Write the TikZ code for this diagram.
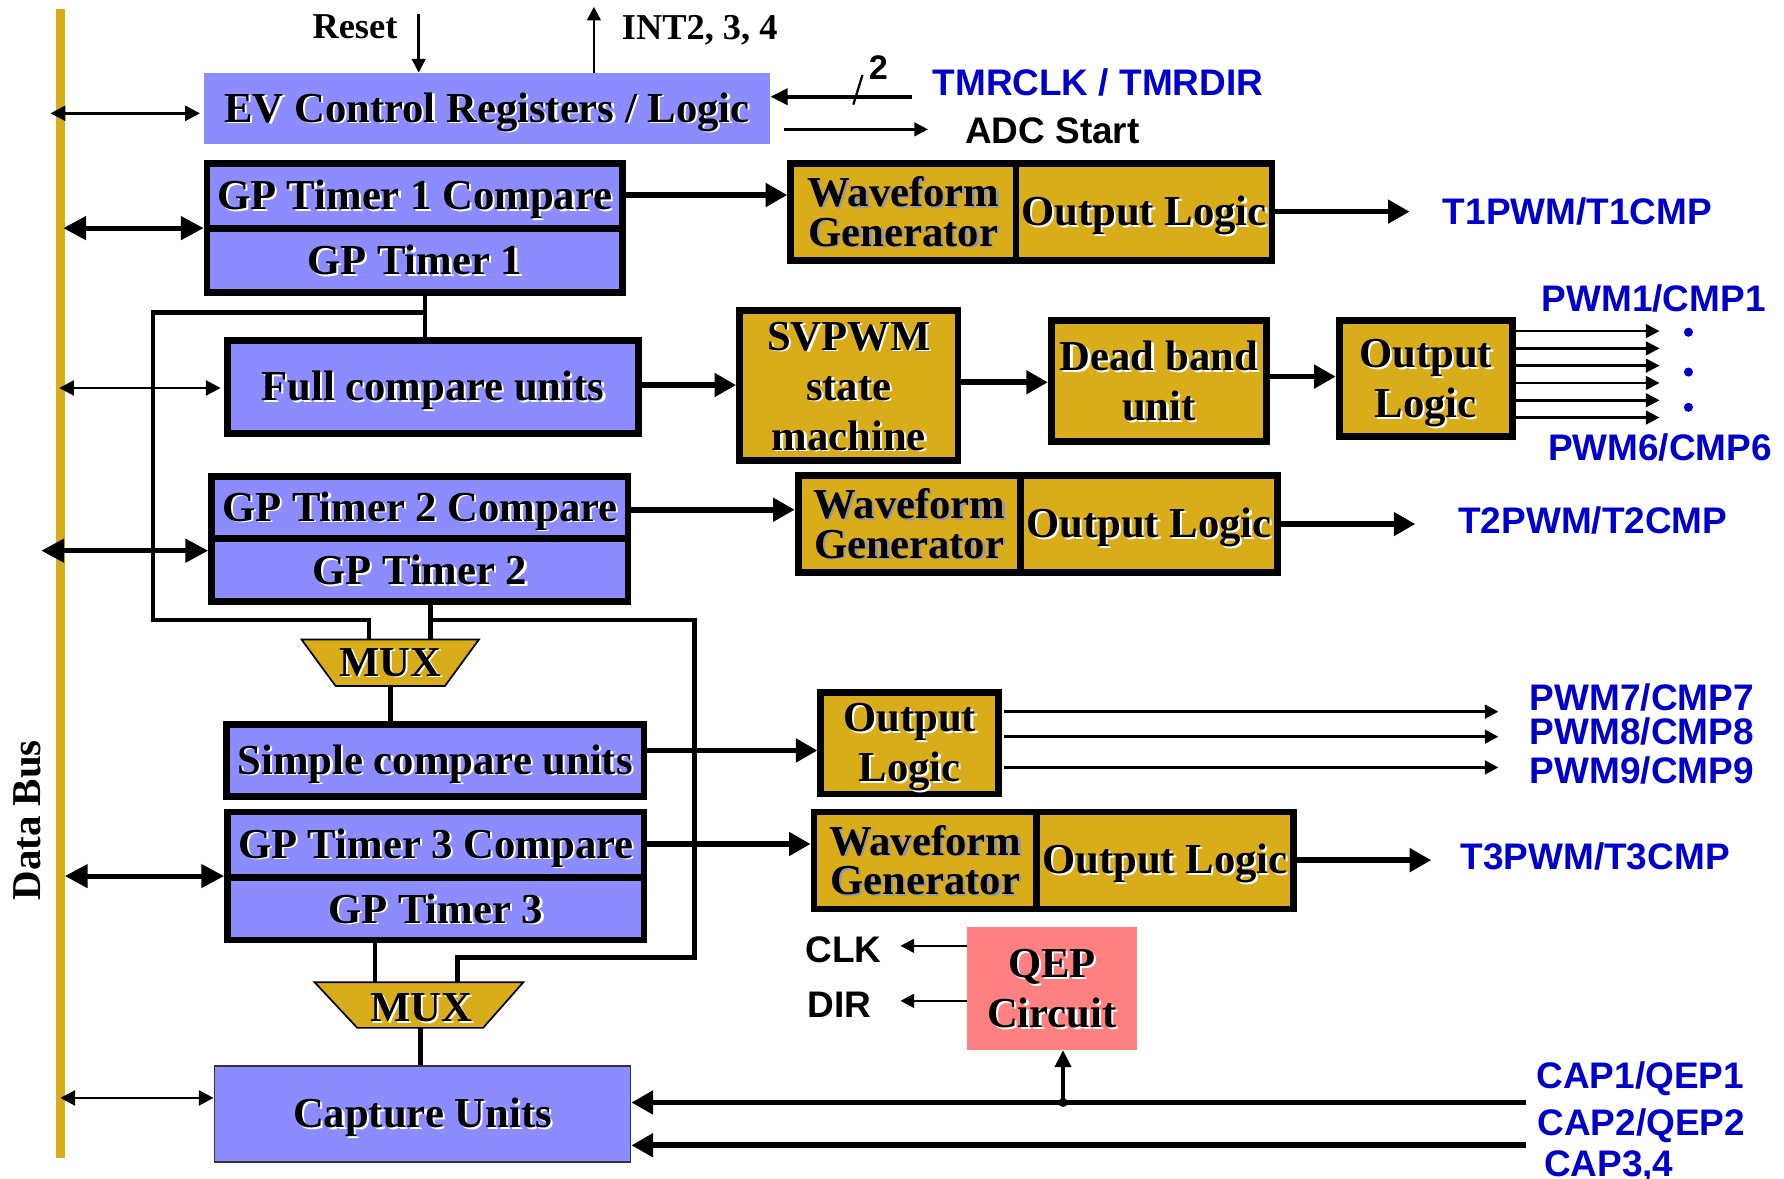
\documentclass[tikz,border=0pt]{standalone}
\usepackage{fontspec}
\setmainfont{Liberation Serif}
\newfontfamily\sansf{Liberation Sans}
\usetikzlibrary{arrows.meta,calc}
\definecolor{evblue}{RGB}{140,140,255}
\definecolor{evyel}{RGB}{217,172,26}
\definecolor{qepcol}{RGB}{255,128,128}
\definecolor{lblue}{RGB}{0,0,204}
\newcommand{\sh}[1]{\leavevmode\rlap{\kern2pt\raisebox{-1.5pt}{\textcolor{white}{#1}}}#1}
\newcommand{\shg}[1]{\leavevmode\rlap{\kern2pt\raisebox{-1.5pt}{\textcolor{black!40}{#1}}}#1}
\newcommand{\tst}{\rule{0pt}{0.891em}}
\newcommand{\bst}{\rule[-0.216em]{0pt}{0.216em}}
\newcommand{\fbig}{\fontsize{37.5}{44}\selectfont\bfseries}
\newcommand{\fwg}{\fontsize{37.5}{35}\selectfont\bfseries}
\newcommand{\flab}{\sansf\fontsize{32.5}{36}\selectfont\bfseries}
\newcommand{\ftop}{\fontsize{32}{36}\selectfont\bfseries}
\begin{document}
\begin{tikzpicture}[x=1pt,y=-1pt,
  box/.style={draw, line width=6pt, inner sep=0pt, align=center, font=\fbig},
  bl/.style={box, fill=evblue},
  yl/.style={box, fill=evyel},
  thk/.style={line width=5pt, -{Triangle[length=19pt,width=20pt]}},
  dthk/.style={line width=4.5pt, {Triangle[length=20pt,width=20pt]}-{Triangle[length=20pt,width=20pt]}},
  thn/.style={line width=2.2pt, -{Triangle[length=12pt,width=12pt]}},
  dthn/.style={line width=2.5pt, {Triangle[length=13pt,width=13pt]}-{Triangle[length=13pt,width=13pt]}},
  med/.style={line width=3.5pt, -{Triangle[length=15pt,width=14pt]}},
  conn/.style={line width=4pt},
  lab/.style={font=\flab, text=lblue, anchor=base, inner sep=0pt},
  blab/.style={font=\flab, text=black, anchor=base, inner sep=0pt},
  tlab/.style={font=\ftop, anchor=base, inner sep=0pt},
  muxs/.style={fill=evyel, draw=black, line width=1.5pt}
]
\useasboundingbox (0,0) rectangle (1568,1036);
\fill[white] (0,0) rectangle (1568,1036);

% data bus
\node[fill=evyel, minimum width=8pt, minimum height=1009.6pt, inner sep=0pt] (bus) at (53.5,512.8) {};
\node[font=\fontsize{36}{40}\selectfont\bfseries, rotate=90] (dbus) at (24,721) {Data Bus};

% EV control
\node[fill=evblue, minimum width=498pt, minimum height=63pt, inner sep=0pt, font=\fbig] (ev) at (428,95.5) {\tst\sh{EV Control Registers / Logic}\bst};

% GP timer 1
\node[bl, minimum width=365pt, minimum height=56.5pt] (gp1c) at (364.5,172.25) {\tst\sh{GP Timer 1 Compare}\bst};
\node[bl, minimum width=365pt, minimum height=56.5pt] (gp1t) at (364.5,228.75) {\tst\sh{GP Timer 1}\bst};
\node[yl, font=\fwg, minimum width=198pt, minimum height=85.4pt] (wg1) at (794,186.3) {\tst\shg{Waveform}\\\shg{Generator}\bst};
\node[yl, minimum width=225pt, minimum height=85.4pt] (ol1) at (1005.5,186.3) {\tst\sh{Output Logic}\bst};

% full compare
\node[bl, minimum width=361pt, minimum height=82pt] (fc) at (380.5,340) {\tst\sh{Full compare units}\bst};
\node[yl, minimum width=192pt, minimum height=132pt] (sv) at (746,339) {\tst\sh{SVPWM}\\\sh{state}\\\sh{machine}\bst};
\node[yl, minimum width=189pt, minimum height=106pt] (db) at (1018.5,335) {\tst\sh{Dead band}\\\sh{unit}\bst};
\node[yl, minimum width=152pt, minimum height=102pt] (ol) at (1253,333) {\tst\sh{Output}\\\sh{Logic}\bst};

% GP timer 2
\node[bl, minimum width=366pt, minimum height=55pt] (gp2c) at (369,446) {\tst\sh{GP Timer 2 Compare}\bst};
\node[bl, minimum width=366pt, minimum height=55pt] (gp2t) at (369,501) {\tst\sh{GP Timer 2}\bst};
\node[yl, font=\fwg, minimum width=195.5pt, minimum height=85pt] (wg2) at (799.25,460.5) {\tst\shg{Waveform}\\\shg{Generator}\bst};
\node[yl, minimum width=225.6pt, minimum height=85pt] (ol2) at (1009.8,460.5) {\tst\sh{Output Logic}\bst};

% MUX 1
\coordinate (m1a) at (265,562);
\coordinate (m1b) at (421,562);
\coordinate (m1c) at (391,603);
\coordinate (m1d) at (295,603);
\coordinate (m1mid) at (343,603);
\draw[muxs] (m1a) -- (m1b) -- (m1c) -- (m1d) -- cycle;
\node[font=\fbig, inner sep=0pt] (mux1) at (343,583) {\sh{MUX}};

% simple compare
\node[bl, minimum width=367pt, minimum height=63.6pt] (sc) at (382.5,668.4) {\tst\sh{Simple compare units}\bst};
\node[yl, minimum width=156pt, minimum height=89.4pt] (olb) at (799.5,653.1) {\tst\sh{Output}\\\sh{Logic}\bst};

% GP timer 3
\node[bl, minimum width=366pt, minimum height=57.3pt] (gp3c) at (383,742.35) {\tst\sh{GP Timer 3 Compare}\bst};
\node[bl, minimum width=366pt, minimum height=55.2pt] (gp3t) at (383,798.6) {\tst\sh{GP Timer 3}\bst};
\node[yl, font=\fwg, minimum width=195.5pt, minimum height=85.3pt] (wg3) at (813.25,756.35) {\tst\shg{Waveform}\\\shg{Generator}\bst};
\node[yl, minimum width=225.6pt, minimum height=85.3pt] (ol3) at (1023.8,756.35) {\tst\sh{Output Logic}\bst};

% MUX 2
\coordinate (m2a) at (276.5,863.3);
\coordinate (m2b) at (460,863.3);
\coordinate (m2c) at (424.6,903.4);
\coordinate (m2d) at (314,903.4);
\coordinate (m2mid) at (369.8,903.4);
\draw[muxs] (m2a) -- (m2b) -- (m2c) -- (m2d) -- cycle;
\node[font=\fbig, inner sep=0pt] (mux2) at (370,886.6) {\sh{MUX}};

% capture
\node[draw=black!80, line width=1.5pt, fill=evblue, minimum width=365.7pt, minimum height=84.5pt, inner sep=0pt, font=\fbig] (cap) at (371.35,979) {\tst\sh{Capture Units}\bst};

% QEP
\node[fill=qepcol, minimum width=149.6pt, minimum height=107.7pt, inner sep=0pt, font=\fbig, align=center] (qepc) at (924.5,868.85) {\tst\sh{QEP}\\\sh{Circuit}\bst};

% ---- top signals
\node[tlab] (reset) at (312,33.7) {Reset};
\node[tlab] (intl) at (615,35) {INT2, 3, 4};
\coordinate (rst) at (368,12);
\coordinate (intt) at (522,6);
\draw[thn] (rst) -- (rst |- ev.north);
\draw[thn] (intt |- ev.north) -- (intt);
\coordinate (tmr) at (802,85);
\draw[med] (tmr) -- (ev.east |- tmr);
\draw[line width=2pt] (750,92) -- (758,66);
\node[blab, font=\sansf\fontsize{30}{34}\selectfont\bfseries] (two) at (772,70) {2};
\node[lab] (tmrl) at (965,83.5) {TMRCLK / TMRDIR};
\coordinate (adc0) at (689,113.7);
\coordinate (adc1) at (815.6,113.7);
\draw[thn] (adc0) -- (adc1);
\node[blab] (adcl) at (925,126) {ADC Start};

% ---- bus arrows
\draw[dthn] (44.4,99.6) -- ($(ev.west |- 0,99.6)+(-3,0)$);
\draw[dthk] (55.6,200.5) -- (gp1c.west |- 0,200.5);
\draw[dthn] (52,341) -- ($(fc.west |- 0,341)+(-3,0)$);
\draw[dthk] (36.3,484) -- (gp2t.west |- 0,484);
\draw[dthk] (57,770) -- (gp3c.west |- 0,770);
\draw[dthn] (53,965) -- (cap.west |- 0,965);

% ---- internal connections
\coordinate (j1) at (373.4,274.5);
\draw[conn] (373.4,0 |- gp1t.south) -- (373.4,0 |- fc.north);
\draw[conn] (j1) -| (134.6,545) -| (324.5,0 |- m1a);
\coordinate (j2) at (378.4,545);
\draw[conn] (j2 |- gp2t.south) -- (j2 |- m1a);
\draw[conn] (j2) -| (610.5,841.7) -| (402,0 |- m2a);
\draw[conn] (m1mid) -- (m1mid |- sc.north);
\draw[conn] (329.5,0 |- gp3t.south) -- (329.5,0 |- m2a);
\draw[conn] (m2mid) -- (m2mid |- cap.north);

% ---- forward arrows
\draw[thk] (gp1c.east |- 0,171.4) -- (wg1.west |- 0,171.4);
\draw[thk] (ol1.east |- 0,186) -- (1239,186);
\draw[thk] (fc.east |- 0,338.4) -- (sv.west |- 0,338.4);
\draw[thk] (sv.east |- 0,336) -- (db.west |- 0,336);
\draw[thk] (db.east |- 0,331) -- (ol.west |- 0,331);
\foreach \yy in {291,306.2,321.4,336.6,351.8,367} {
  \draw[thn] (ol.east |- 0,\yy) -- (1458.6,\yy);
}
\foreach \yy in {292,327,358} { \fill[lblue] (1484,\yy) circle (4pt); }
\node[lab] (p1) at (1453.5,274) {PWM1/CMP1};
\node[lab] (p6) at (1459,404.5) {PWM6/CMP6};
\node[lab] (t1) at (1386.5,197) {T1PWM/T1CMP};

\draw[thk] (gp2c.east |- 0,448) -- (wg2.west |- 0,448);
\draw[thk] (ol2.east |- 0,460.6) -- (1244,460.6);
\node[lab] (t2) at (1400,468.6) {T2PWM/T2CMP};

\draw[thk] (sc.east |- 0,659.6) -- (olb.west |- 0,659.6);
\foreach \yy in {625.5,647.5,674.5} {
  \draw[thn, line width=2.5pt] ($(olb.east |- 0,\yy)+(2,0)$) -- (1317,\yy);
}
\node[lab] (p7) at (1443,624.6) {PWM7/CMP7};
\node[lab] (p8) at (1443,654.3) {PWM8/CMP8};
\node[lab] (p9) at (1443,688.4) {PWM9/CMP9};

\draw[thk] (gp3c.east |- 0,741.8) -- (wg3.west |- 0,741.8);
\draw[thk] (ol3.east |- 0,756) -- (1258,756);
\node[lab] (t3) at (1402,764) {T3PWM/T3CMP};

% ---- QEP and capture inputs
\coordinate (c1) at (1341,969);
\coordinate (c2) at (1341,1006.6);
\coordinate (qj) at (934.3,969);
\draw[thk] (c1) -- (cap.east |- c1);
\draw[thk] (c2) -- (cap.east |- c2);
\draw[med] (qj) -- (qj |- qepc.south);
\fill (qj) circle (4pt);
\draw[thn] (qepc.west |- 0,831.3) -- (791.4,831.3);
\draw[thn] (qepc.west |- 0,879.7) -- (791.4,879.7);
\node[blab] (clk) at (741.5,845.6) {CLK};
\node[blab] (dir) at (738,894.5) {DIR};
\node[lab] (cq1) at (1441.7,956.8) {CAP1/QEP1};
\node[lab] (cq2) at (1442.5,998.3) {CAP2/QEP2};
\node[lab] (cq3) at (1414,1033.8) {CAP3,4};
\end{tikzpicture}
\end{document}
